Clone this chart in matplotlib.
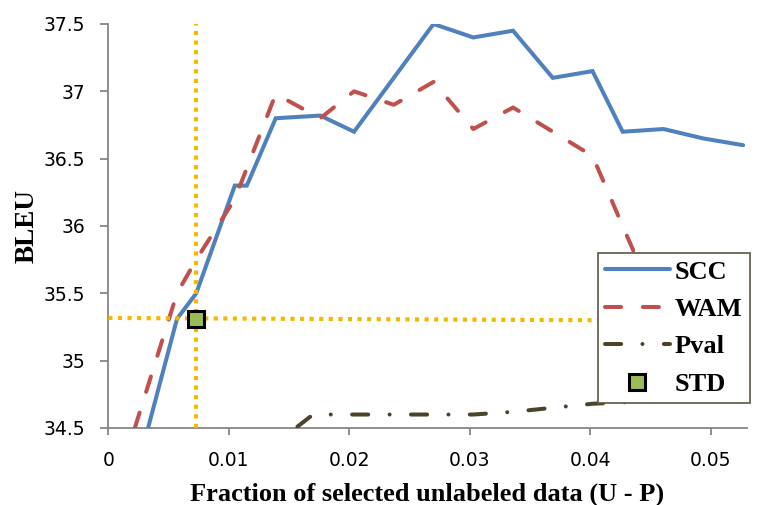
import matplotlib
matplotlib.use("Agg")
import matplotlib.pyplot as plt

# ────────────────────────────────────────────────────────────────
# data
scc_x = [0.0033, 0.0057, 0.0073, 0.0105, 0.0115, 0.0139, 0.0176, 0.0204,
         0.0270, 0.0303, 0.0336, 0.0369, 0.0402, 0.0427, 0.0461, 0.0494, 0.0527]
scc_y = [34.50, 35.31, 35.50, 36.30, 36.30, 36.80, 36.82, 36.70,
         37.50, 37.40, 37.45, 37.10, 37.15, 36.70, 36.72, 36.65, 36.60]

wam_x = [0.0022, 0.0057, 0.0073, 0.0105, 0.0139, 0.0176, 0.0204, 0.0237,
         0.0270, 0.0303, 0.0336, 0.0369, 0.0402, 0.0427, 0.0461, 0.0494]
wam_y = [34.50, 35.50, 35.75, 36.20, 36.98, 36.80, 37.00, 36.90,
         37.07, 36.72, 36.88, 36.70, 36.52, 36.00, 35.30, 34.90]

pval_x = [0.0157, 0.0170, 0.0204, 0.0237, 0.0270, 0.0303, 0.0336, 0.0369,
          0.0402, 0.0427, 0.0461, 0.0494]
pval_y = [34.51, 34.60, 34.60, 34.60, 34.60, 34.60, 34.62, 34.65,
          34.68, 34.69, 34.72, 34.75]

std_x = [0.00725]
std_y = [35.31]

# guide lines through the STD point
hline_x = [0.0, 0.053]
hline_y = [35.317, 35.295]
vline_x = [0.00725, 0.00725]
vline_y = [34.5, 37.5]

xticks = [0, 0.01, 0.02, 0.03, 0.04, 0.05]
xtick_labels = ["0", "0.01", "0.02", "0.03", "0.04", "0.05"]
yticks = [34.5, 35, 35.5, 36, 36.5, 37, 37.5]
ytick_labels = ["34.5", "35", "35.5", "36", "36.5", "37", "37.5"]

# ────────────────────────────────────────────────────────────────
BLUE = "#4F81BD"
RED = "#C0504D"
OLIVE = "#4A452A"
GOLD = "#F5B800"
GREEN = "#9BBB59"
GRAY = "#868686"

fig = plt.figure(figsize=(7.59, 5.05), dpi=100)
ax = fig.add_axes([0.1427, 0.1525, 0.8411, 0.8])

ax.plot(scc_x, scc_y, color=BLUE, lw=2.9, solid_capstyle="round",
        solid_joinstyle="miter", label="SCC", zorder=3)
ax.plot(wam_x, wam_y, color=RED, lw=2.9, dashes=(4, 5.4),
        dash_capstyle="round", label="WAM", zorder=4)
ax.plot(pval_x, pval_y, color=OLIVE, lw=2.9, dashes=(4, 5.3, 0.01, 5.3),
        dash_capstyle="round", label="Pval", zorder=4)
ax.plot(hline_x, hline_y, color=GOLD, lw=3, dashes=(1, 1.3),
        dash_capstyle="butt", zorder=5)
ax.plot(vline_x, vline_y, color=GOLD, lw=3, dashes=(1, 1.3),
        dash_capstyle="butt", zorder=5)
ax.plot(std_x, std_y, linestyle="none", marker="s", ms=11.5, mew=2.2,
        mfc=GREEN, mec="black", label="STD", zorder=6)

ax.set_xlim(0, 0.053)
ax.set_ylim(34.5, 37.5)
ax.set_xticks(xticks)
ax.set_xticklabels(xtick_labels)
ax.set_yticks(yticks)
ax.set_yticklabels(ytick_labels)

for side in ["top", "right"]:
    ax.spines[side].set_visible(False)
for side in ["left", "bottom"]:
    ax.spines[side].set_color(GRAY)
    ax.spines[side].set_linewidth(1.3)
ax.tick_params(axis="both", direction="out", color=GRAY, width=1.3,
               labelsize=13.5, labelcolor="black")
ax.tick_params(axis="x", length=5, pad=11.5)
ax.tick_params(axis="y", length=6, pad=10.5)

ax.set_xlabel("Fraction of selected unlabeled data (U - P)",
              fontfamily="Liberation Serif", fontweight="bold", fontsize=19,
              labelpad=9)
ax.set_ylabel("BLEU", fontfamily="Liberation Serif", fontweight="bold",
              fontsize=19.5, labelpad=3)

leg = ax.legend(loc="upper left", bbox_to_anchor=(0.7875, 0.4996),
                bbox_transform=fig.transFigure,
                prop={"family": "Liberation Serif", "weight": "bold", "size": 19},
                frameon=True, fancybox=False, framealpha=1,
                handlelength=2.45, handletextpad=0.2, labelspacing=0.53,
                borderpad=0.28, borderaxespad=0)
leg.get_frame().set_edgecolor("#5C5740")
leg.get_frame().set_linewidth(1.2)
leg.set_zorder(10)

fig.savefig("out.png", dpi=100)
